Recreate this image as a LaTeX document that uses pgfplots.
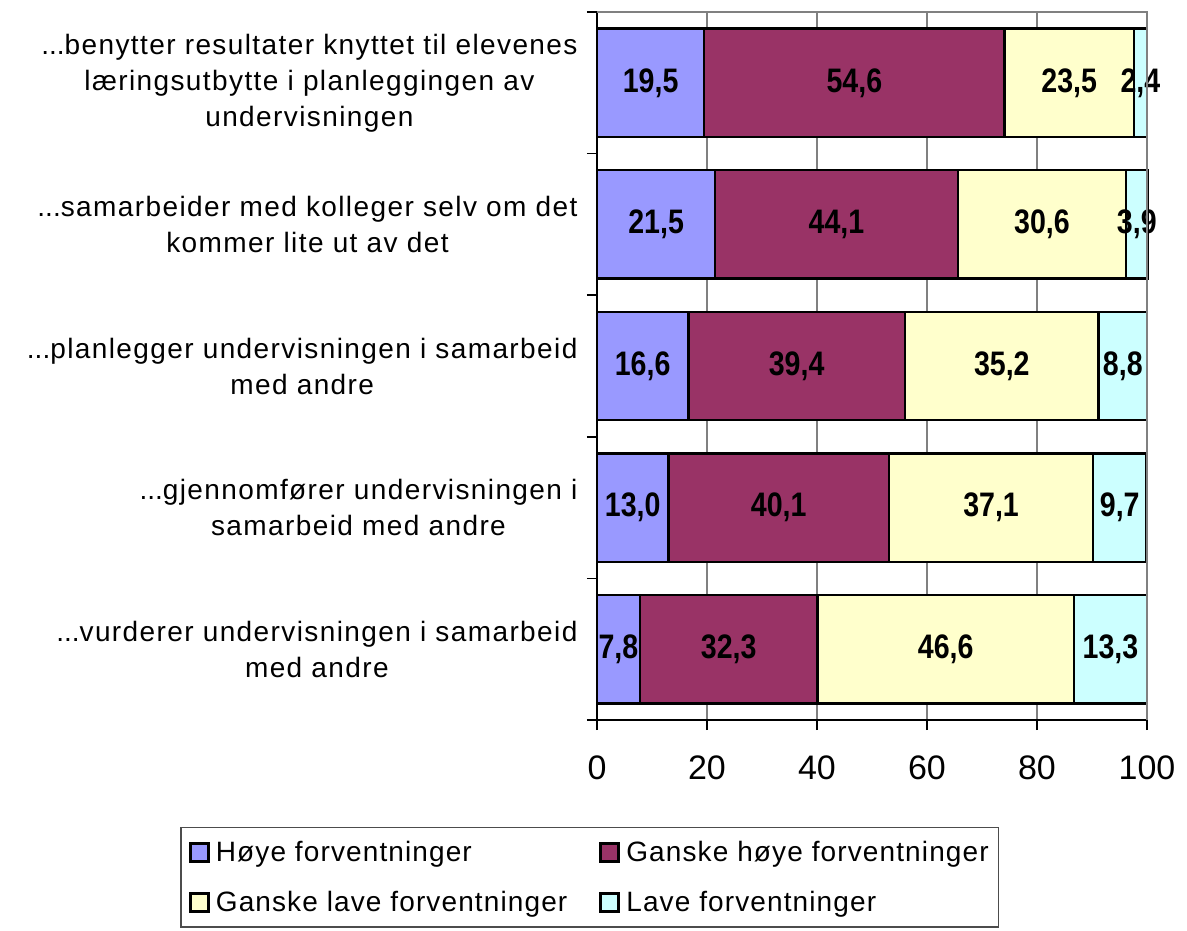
\documentclass[border=0pt]{standalone}
\usepackage{pgfplots}
\pgfplotsset{compat=1.18}
\usepackage{pgfplotstable}
\usepackage{graphicx}
\usepackage{fontspec}
\setmainfont{Liberation Sans}
\definecolor{c1}{HTML}{9999FF}
\definecolor{c2}{HTML}{993366}
\definecolor{c3}{HTML}{FFFFCC}
\definecolor{c4}{HTML}{CCFFFF}
\newcommand{\ddd}{{\addfontfeatures{LetterSpace=0}...}}
\pgfplotstableread{
y a b c d
0 19.5 54.6 23.5 2.4
1 21.5 44.1 30.6 3.9
2 16.6 39.4 35.2 8.8
3 13.0 40.1 37.1 9.7
4 7.8 32.3 46.6 13.3
}\data
\begin{document}
\begin{tikzpicture}[x=1pt,y=1pt]
\useasboundingbox (0,0) rectangle (1187,931);
\begin{axis}[
  at={(597pt,211pt)}, anchor=south west,
  scale only axis, width=550pt, height=708pt,
  clip=false,
  xbar stacked, bar width=0.765,
  xmin=0, xmax=100, ymin=-0.5, ymax=4.5, y dir=reverse,
  axis x line*=bottom, axis y line*=left,
  axis line style={black, line width=1.5pt},
  tick align=outside,
  major tick length=10pt,
  tick style={black, line width=1.5pt},
  xtick={0,20,40,60,80,100},
  xmajorgrids, grid style={gray, line width=1.5pt},
  xticklabel style={font=\fontsize{34}{36}\selectfont, yshift=-22pt},
  /pgf/number format/assume math mode=true,
  ytick={-0.5,0.5,1.5,2.5,3.5,4.5},
  yticklabels={,,,,,,},
  extra y ticks={0,1,2,3,4},
  extra y tick labels={
    {\ddd benytter resultater knyttet til elevenes\\læringsutbytte i planleggingen av\\undervisningen},
    {\ddd samarbeider med kolleger selv om det\\kommer lite ut av det},
    {\ddd planlegger undervisningen i samarbeid\\med andre},
    {\ddd gjennomfører undervisningen i\\samarbeid med andre},
    {\ddd vurderer undervisningen i samarbeid\\med andre}},
  extra y tick style={major tick length=0pt, yticklabel style={align=center, font=\fontsize{28}{36}\selectfont\addfontfeatures{LetterSpace=5}, xshift=-16pt}},
  point meta=explicit,
  nodes near coords={\scalebox{0.84}[1]{\pgfmathprintnumber[fixed,fixed zerofill,precision=1,use comma]{\pgfplotspointmeta}}},
  every node near coord/.append style={anchor=center, inner sep=0pt, text=black, font=\bfseries\fontsize{34}{36}\selectfont},
  legend columns=2,
  legend cell align=left,
  legend image code/.code={\draw[#1, line width=3pt] (0pt,-9pt) rectangle (18pt,9pt);},
  legend style={at={(-0.758,-0.151)}, anchor=north west, draw=gray!60!black, line width=1.5pt,
    font=\fontsize{28}{30}\selectfont\addfontfeatures{LetterSpace=4}, inner xsep=8pt, inner ysep=12pt, row sep=24pt,
    /tikz/every even column/.append style={column sep=30pt},
    /tikz/every odd column/.append style={column sep=4pt}},
  after end axis/.code={\draw[gray, line width=2pt] (axis description cs:0,1) -- (axis description cs:1,1) -- (axis description cs:1,0);},
]
\addplot[fill=c1, draw=black, line width=2.5pt] table[x=a, y=y, meta=a] {\data};
\addplot[fill=c2, draw=black, line width=2.5pt] table[x=b, y=y, meta=b] {\data};
\addplot[fill=c3, draw=black, line width=2.5pt] table[x=c, y=y, meta=c] {\data};
\addplot[fill=c4, draw=black, line width=2.5pt] table[x=d, y=y, meta=d] {\data};
\legend{Høye forventninger, Ganske høye forventninger, Ganske lave forventninger, Lave forventninger}
\end{axis}
\end{tikzpicture}
\end{document}
